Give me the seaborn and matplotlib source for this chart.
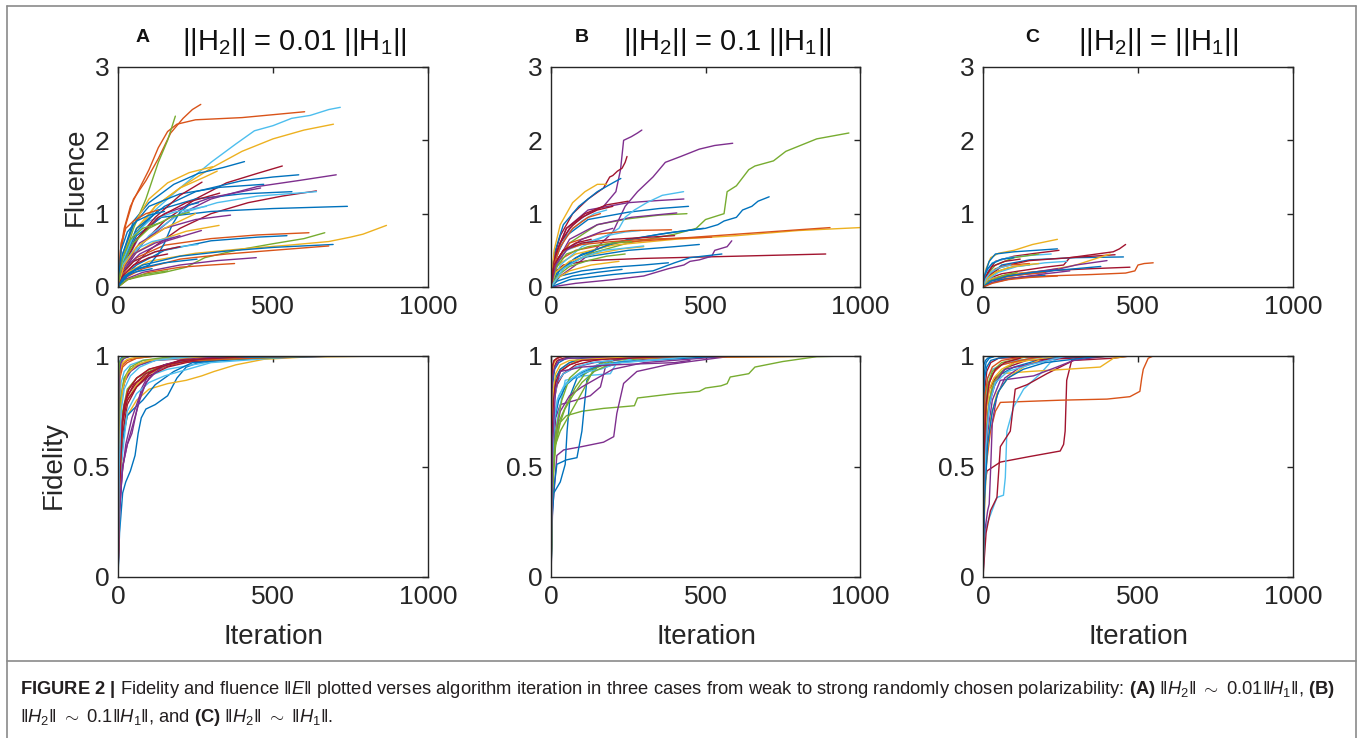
import numpy as np
import pandas as pd
import matplotlib
matplotlib.use("Agg")
import matplotlib.pyplot as plt
from matplotlib.lines import Line2D
import seaborn as sns

# ---------------- colours (MATLAB default order) ----------------
COLORS = {"b": "#0072BD", "o": "#D95319", "y": "#EDB120", "p": "#7E2F8E",
          "g": "#77AC30", "c": "#4DBEEE", "r": "#A2142F"}

# ---------------- data: (colour, iterations, values) ----------------
A_FLU = [
 ("o", [0,8,20,40,70,100,130,160,190,250,400,602], [0,0.5,0.8,1.1,1.35,1.6,1.9,2.12,2.22,2.28,2.31,2.39]),
 ("o", [0,10,25,50,90,130,170,210,240,267], [0,0.5,0.85,1.2,1.45,1.75,2.1,2.3,2.42,2.49]),
 ("g", [0,20,50,90,130,160,185], [0,0.4,0.8,1.2,1.7,2.0,2.33]),
 ("c", [0,20,60,120,200,300,380,440,500,560,620,680,717], [0,0.4,0.75,1.05,1.35,1.7,1.95,2.13,2.2,2.3,2.34,2.42,2.45]),
 ("y", [0,20,60,120,200,300,400,500,600,695], [0,0.4,0.8,1.1,1.35,1.62,1.85,2.02,2.14,2.22]),
 ("b", [0,15,50,100,180,260,340,408], [0,0.45,0.9,1.15,1.4,1.55,1.63,1.71]),
 ("y", [0,15,50,100,160,230,305], [0,0.4,0.85,1.2,1.42,1.56,1.64]),
 ("y", [0,20,60,120,200,280,320], [0,0.35,0.75,1.1,1.35,1.5,1.58]),
 ("r", [0,30,80,150,250,350,450,530], [0,0.3,0.6,0.9,1.2,1.42,1.55,1.65]),
 ("b", [0,20,60,150,250,400,500,583], [0,0.4,0.8,1.1,1.3,1.45,1.5,1.53]),
 ("p", [0,30,80,180,300,450,580,704], [0,0.3,0.6,0.95,1.2,1.37,1.45,1.53]),
 ("r", [0,40,100,200,300,420,530,640], [0,0.25,0.5,0.8,1.0,1.15,1.24,1.31]),
 ("c", [0,30,100,200,320,450,640], [0,0.35,0.7,1.0,1.15,1.24,1.3]),
 ("b", [0,20,60,130,250,400,561], [0,0.4,0.75,1.05,1.2,1.27,1.3]),
 ("b", [0,15,50,100,200,330,470], [0,0.45,0.85,1.1,1.27,1.36,1.4]),
 ("p", [0,20,70,150,300,460], [0,0.3,0.7,1.0,1.22,1.35]),
 ("b", [0,20,60,140,300,500,740], [0,0.35,0.7,0.95,1.03,1.07,1.10]),
 ("o", [0,20,60,150,300,450,616], [0,0.2,0.4,0.57,0.66,0.71,0.74]),
 ("b", [0,20,60,150,300,450,545], [0,0.15,0.3,0.5,0.63,0.68,0.70]),
 ("g", [0,30,80,150,220,280,380,500,600,667], [0,0.1,0.15,0.2,0.27,0.4,0.5,0.59,0.66,0.74]),
 ("y", [0,30,100,250,400,550,680,750,790,866], [0,0.2,0.35,0.46,0.52,0.57,0.62,0.68,0.72,0.84]),
 ("b", [0,20,80,200,350,500,694], [0,0.15,0.3,0.42,0.49,0.54,0.58]),
 ("o", [0,20,80,200,350,500,680], [0,0.12,0.25,0.38,0.45,0.5,0.56]),
 ("p", [0,20,80,200,320,446], [0,0.1,0.2,0.3,0.36,0.4]),
 ("o", [0,30,100,200,300,376], [0,0.1,0.2,0.27,0.3,0.32]),
 ("b", [0,40,100,130,150,175,200,230,260], [0,0.2,0.3,0.45,0.6,0.85,1.02,1.12,1.15]),
 ("c", [0,15,50,100,180,285], [0,0.35,0.7,0.9,1.02,1.1]),
 ("y", [0,15,50,120,220,326], [0,0.25,0.45,0.62,0.76,0.84]),
 ("p", [0,20,70,150,250,363], [0,0.3,0.6,0.8,0.92,0.98]),
 ("p", [0,20,70,150,269], [0,0.25,0.45,0.62,0.77]),
 ("r", [0,20,60,120,200,271], [0,0.3,0.65,0.95,1.25,1.43]),
 ("r", [0,20,60,130,220,328], [0,0.3,0.65,0.95,1.15,1.28]),
 ("g", [0,15,50,100,170,230], [0,0.3,0.6,0.8,0.95,1.02]),
 ("c", [0,15,50,120,200,258], [0,0.2,0.35,0.48,0.55,0.58]),
 ("g", [0,30,80,160], [0,0.1,0.17,0.22]),
 ("r", [0,15,50,120,200], [0,0.2,0.35,0.48,0.55]),
 ("b", [0,20,60,150,255], [0,0.12,0.25,0.33,0.38]),
 ("o", [0,10,25,50,90,130], [0,0.6,0.8,0.9,1.0,1.05]),
 ("c", [0,15,50,110,180], [0,0.3,0.5,0.62,0.68]),
 ("p", [0,15,50,120,200], [0,0.25,0.45,0.6,0.7]),
 ("b", [0,10,30,60,100,150], [0,0.5,0.75,0.9,0.98,1.03]),
 ("y", [0,20,60,150,250], [0,0.3,0.55,0.8,1.0]),
 ("g", [0,15,40,80,140], [0,0.4,0.65,0.8,0.88]),
 ("r", [0,15,50,100,160], [0,0.15,0.3,0.4,0.45]),
 ("b", [0,15,50,110], [0,0.12,0.2,0.25]),
]

B_FLU = [
 ("p", [0,10,30,70,120,170,210,225,235,260,280,294], [0,0.3,0.6,0.85,1.0,1.1,1.3,1.6,2.0,2.05,2.1,2.14]),
 ("r", [0,10,30,70,120,170,190,200,215,230,240,246], [0,0.4,0.7,1.0,1.2,1.35,1.5,1.52,1.58,1.62,1.7,1.78]),
 ("p", [0,30,80,140,200,240,280,330,370,420,480,530,588], [0,0.15,0.3,0.5,0.75,1.1,1.3,1.5,1.7,1.78,1.88,1.93,1.96]),
 ("g", [0,40,120,250,400,470,500,560,570,600,640,660,720,760,860,964], [0,0.25,0.45,0.6,0.72,0.8,0.92,1.0,1.3,1.38,1.6,1.65,1.72,1.85,2.02,2.1]),
 ("b", [0,30,100,250,400,500,540,560,600,620,650,670,706], [0,0.25,0.45,0.65,0.75,0.8,0.85,0.9,0.95,1.05,1.1,1.17,1.23]),
 ("y", [0,20,80,200,400,600,800,1000], [0,0.3,0.45,0.57,0.65,0.7,0.77,0.81]),
 ("o", [0,20,80,200,400,600,800,903], [0,0.35,0.5,0.6,0.66,0.72,0.78,0.81]),
 ("r", [0,10,40,120,300,600,889], [0,0.2,0.3,0.36,0.39,0.42,0.45]),
 ("p", [0,80,200,300,380,430,450,480,520,530,570,585], [0,0.05,0.1,0.15,0.25,0.3,0.35,0.37,0.42,0.5,0.55,0.63]),
 ("b", [0,60,200,330,400,450,553], [0,0.1,0.17,0.22,0.33,0.4,0.45]),
 ("b", [0,30,100,250,400,480], [0,0.25,0.4,0.5,0.55,0.58]),
 ("b", [0,15,50,120,250,350,445], [0,0.4,0.7,0.92,1.02,1.07,1.1]),
 ("p", [0,15,50,120,250,350,430], [0,0.45,0.8,1.05,1.15,1.18,1.2]),
 ("g", [0,20,60,150,250,350,440], [0,0.3,0.6,0.85,0.93,0.98,1.0]),
 ("p", [0,20,60,150,260,407], [0,0.35,0.65,0.85,0.95,1.01]),
 ("c", [0,30,100,180,220,240,270,310,360,429], [0,0.3,0.55,0.7,0.8,0.95,1.05,1.15,1.25,1.3]),
 ("b", [0,10,40,90,150,200,226], [0,0.45,0.85,1.1,1.3,1.42,1.48]),
 ("y", [0,10,30,70,110,150,180], [0,0.5,0.85,1.15,1.3,1.4,1.4]),
 ("c", [0,15,50,110,180,240,289], [0,0.3,0.5,0.6,0.7,0.75,0.77]),
 ("r", [0,15,50,110,180,250], [0,0.45,0.8,1.0,1.12,1.17]),
 ("o", [0,15,60,150,260,390], [0,0.35,0.6,0.72,0.77,0.78]),
 ("b", [0,20,80,200,350,493], [0,0.2,0.4,0.6,0.72,0.8]),
 ("b", [0,30,100,200,300,380], [0,0.15,0.22,0.27,0.3,0.33]),
 ("o", [0,10,40,100,200,300,520], [0,0.3,0.5,0.58,0.62,0.65,0.68]),
 ("r", [0,10,40,100,200,320,400], [0,0.3,0.5,0.6,0.65,0.68,0.7]),
 ("y", [0,15,60,140,230,300], [0,0.2,0.35,0.45,0.52,0.55]),
 ("g", [0,15,50,120,200,260], [0,0.25,0.45,0.55,0.6,0.62]),
 ("c", [0,10,30,60,100,140,180], [0,0.3,0.55,0.75,0.9,1.0,1.05]),
 ("r", [0,10,30,60,100,150,200], [0,0.35,0.6,0.8,0.95,1.05,1.1]),
 ("o", [0,10,30,70,120,160], [0,0.3,0.55,0.8,0.95,1.0]),
 ("g", [0,20,60,120,180,240], [0,0.15,0.28,0.36,0.42,0.45]),
 ("b", [0,20,70,150,230], [0,0.08,0.15,0.2,0.24]),
 ("y", [0,20,60,130,220], [0,0.12,0.22,0.3,0.35]),
 ("p", [0,15,50,100,160,200], [0,0.3,0.5,0.65,0.75,0.8]),
 ("r", [0,10,40,80,130], [0,0.3,0.5,0.6,0.65]),
 ("c", [0,40,100,170,240,300], [0,0.25,0.4,0.5,0.53,0.56]),
]

C_FLU = [
 ("y", [0,10,25,50,100,160,240], [0,0.25,0.4,0.46,0.5,0.58,0.65]),
 ("r", [0,20,60,120,200,260,280,350,420,440,460], [0,0.12,0.18,0.22,0.27,0.3,0.4,0.44,0.48,0.52,0.58]),
 ("o", [0,20,80,200,350,460,490,500,520,549], [0,0.08,0.12,0.15,0.17,0.19,0.22,0.3,0.32,0.33]),
 ("r", [0,20,80,200,350,474], [0,0.1,0.17,0.22,0.25,0.27]),
 ("b", [0,20,60,150,300,453], [0,0.15,0.3,0.37,0.4,0.41]),
 ("r", [0,20,60,150,280,426], [0,0.15,0.28,0.36,0.4,0.44]),
 ("b", [0,8,20,40,100,240], [0,0.2,0.35,0.45,0.48,0.52]),
 ("r", [0,15,40,100,170,245], [0,0.2,0.35,0.42,0.46,0.5]),
 ("y", [0,20,80,200,300,410], [0,0.1,0.17,0.22,0.3,0.45]),
 ("p", [0,20,80,200,300,400], [0,0.08,0.15,0.2,0.3,0.36]),
 ("c", [0,10,30,80,150,220], [0,0.2,0.33,0.4,0.43,0.45]),
 ("p", [0,20,80,160,240], [0,0.08,0.15,0.2,0.25]),
 ("g", [0,10,40,100,180], [0,0.15,0.3,0.4,0.45]),
 ("o", [0,20,60,130,200], [0,0.08,0.13,0.17,0.2]),
 ("b", [0,5,15,30,60,100], [0,0.15,0.25,0.32,0.38,0.4]),
 ("g", [0,15,50,100,150], [0,0.12,0.22,0.28,0.3]),
 ("c", [0,15,50,110,200,270], [0,0.1,0.2,0.28,0.33,0.35]),
 ("o", [0,15,40,90,150], [0,0.15,0.25,0.3,0.32]),
 ("b", [0,20,60,130,200], [0,0.05,0.1,0.14,0.16]),
 ("r", [0,10,30,70,120], [0,0.15,0.28,0.35,0.38]),
 ("y", [0,15,40,80,130,180], [0,0.12,0.2,0.26,0.3,0.32]),
 ("p", [0,30,100,200,280], [0,0.06,0.12,0.18,0.22]),
 ("g", [0,20,60,110], [0,0.08,0.15,0.2]),
 ("c", [0,10,25,50,90], [0,0.12,0.2,0.26,0.3]),
 ("b", [0,25,80,160,300,380], [0,0.08,0.15,0.2,0.25,0.28]),
 ("o", [0,30,80,150,240], [0,0.05,0.1,0.13,0.15]),
]

A_FID = [
 ("b", [0,5,15,25,40,55,65,75,90,120,160,190,220,260,320,694], [0,0.2,0.38,0.43,0.48,0.55,0.65,0.72,0.76,0.78,0.82,0.9,0.95,0.97,0.99,1.0]),
 ("y", [0,5,15,30,60,100,160,220,270,310,380,470,600,866], [0,0.3,0.62,0.73,0.8,0.85,0.875,0.89,0.91,0.93,0.96,0.985,0.995,1.0]),
 ("c", [0,5,15,30,60,100,160,240,330,440,717], [0,0.35,0.65,0.8,0.87,0.91,0.94,0.96,0.98,0.99,1.0]),
 ("p", [0,5,15,30,45,60,75,100,150,220,704], [0,0.3,0.5,0.6,0.65,0.75,0.85,0.92,0.96,0.98,1.0]),
 ("r", [0,5,15,30,60,100,160,250,640], [0,0.4,0.65,0.78,0.86,0.91,0.95,0.98,1.0]),
 ("r", [0,5,15,30,60,100,150,200,530], [0,0.45,0.72,0.82,0.88,0.92,0.95,0.97,1.0]),
 ("b", [0,5,15,30,50,80,120,180,240,561], [0,0.4,0.62,0.73,0.76,0.8,0.87,0.93,0.97,1.0]),
 ("c", [0,10,30,60,100,150,200,250,300,600], [0,0.5,0.75,0.83,0.88,0.91,0.93,0.95,0.97,1.0]),
 ("p", [0,5,15,30,50,70,90,130,200,460], [0,0.3,0.5,0.6,0.7,0.8,0.88,0.94,0.98,1.0]),
 ("y", [0,5,15,30,60,100,160,230,320], [0,0.4,0.7,0.8,0.87,0.92,0.96,0.98,1.0]),
 ("g", [0,5,15,30,60,100,150,230,667], [0,0.5,0.75,0.85,0.9,0.93,0.96,0.98,1.0]),
 ("o", [0,5,15,30,60,100,160,240,616], [0,0.45,0.72,0.84,0.9,0.94,0.96,0.98,1.0]),
 ("b", [0,3,10,25,50,90,150,740], [0,0.6,0.82,0.9,0.95,0.97,0.99,1.0]),
 ("r", [0,5,15,30,60,100,150,330], [0,0.4,0.7,0.8,0.86,0.92,0.96,1.0]),
 ("g", [0,3,10,20,40,80,150,230], [0,0.6,0.82,0.9,0.94,0.97,0.99,1.0]),
 ("c", [0,3,10,20,40,80,150,285], [0,0.7,0.88,0.93,0.96,0.98,0.99,1.0]),
 ("o", [0,2,6,15,30,60,120,267], [0,0.7,0.9,0.95,0.97,0.99,1.0,1.0]),
 ("o", [0,2,6,15,30,60,120,602], [0,0.75,0.92,0.96,0.98,0.99,1.0,1.0]),
 ("y", [0,2,6,15,30,60,120,695], [0,0.8,0.93,0.97,0.985,0.995,1.0,1.0]),
 ("p", [0,3,10,20,40,70,120,363], [0,0.55,0.8,0.88,0.93,0.96,0.98,1.0]),
 ("b", [0,2,5,10,20,40,80,408], [0,0.85,0.95,0.98,0.99,1.0,1.0,1.0]),
 ("r", [0,3,10,20,35,60,100,200,271], [0,0.35,0.65,0.78,0.85,0.9,0.94,0.98,1.0]),
 ("g", [0,3,8,20,40,80,185], [0,0.55,0.8,0.9,0.95,0.98,1.0]),
 ("p", [0,5,12,25,45,70,100,150,269], [0,0.3,0.45,0.6,0.72,0.82,0.9,0.96,1.0]),
 ("y", [0,3,8,15,30,60,100,305], [0,0.5,0.75,0.85,0.92,0.96,0.98,1.0]),
 ("b", [0,2,5,10,20,50,100,583], [0,0.9,0.97,0.99,1.0,1.0,1.0,1.0]),
 ("r", [0,4,12,25,50,90,140,200,446], [0,0.45,0.7,0.8,0.87,0.92,0.95,0.98,1.0]),
 ("c", [0,4,10,20,40,70,120,258], [0,0.5,0.75,0.85,0.91,0.95,0.98,1.0]),
 ("p", [0,2,5,10,20,40,80,446], [0,0.8,0.93,0.97,0.99,1.0,1.0,1.0]),
 ("g", [0,2,4,8,15,30,160], [0,0.9,0.96,0.98,0.99,1.0,1.0]),
]

B_FID = [
 ("g", [0,3,8,15,30,50,100,170,230,270,280,400,480,500,550,570,580,640,660,750,860,964],
       [0,0.35,0.5,0.6,0.7,0.73,0.75,0.763,0.77,0.775,0.81,0.83,0.84,0.855,0.865,0.875,0.905,0.92,0.95,0.975,0.997,1.0]),
 ("p", [0,5,19,41,100,170,203,213,235,278,375,450,588], [0,0.3,0.55,0.575,0.59,0.61,0.635,0.74,0.876,0.93,0.96,0.975,1.0]),
 ("b", [0,3,9,30,46,52,62,84,160,213,300,706], [0,0.25,0.38,0.43,0.51,0.66,0.82,0.9,0.96,0.97,0.99,1.0]),
 ("b", [0,5,19,50,84,100,116,160,250,445], [0,0.35,0.51,0.53,0.54,0.66,0.89,0.97,0.99,1.0]),
 ("p", [0,5,15,30,80,127,160,176,250,430], [0,0.5,0.72,0.78,0.8,0.82,0.86,0.95,0.98,1.0]),
 ("c", [0,5,19,46,106,192,213,300,429], [0,0.45,0.7,0.89,0.91,0.92,0.97,0.99,1.0]),
 ("g", [0,5,15,30,62,106,138,200,440], [0,0.4,0.6,0.66,0.74,0.85,0.94,0.98,1.0]),
 ("g", [0,4,12,25,50,80,110,150,240], [0,0.4,0.6,0.7,0.78,0.86,0.92,0.96,1.0]),
 ("c", [0,4,10,25,50,80,120,160,200,289], [0,0.5,0.72,0.82,0.88,0.91,0.93,0.94,0.96,1.0]),
 ("y", [0,3,8,15,30,60,100,160,1000], [0,0.6,0.82,0.9,0.94,0.97,0.98,0.99,1.0]),
 ("o", [0,3,8,15,30,60,100,160,903], [0,0.55,0.8,0.88,0.93,0.96,0.98,0.99,1.0]),
 ("r", [0,2,5,10,20,40,80,889], [0,0.75,0.9,0.95,0.98,0.99,1.0,1.0]),
 ("p", [0,5,15,30,60,100,150,200,300,585], [0,0.45,0.65,0.75,0.82,0.86,0.9,0.94,0.97,1.0]),
 ("b", [0,4,10,25,50,90,140,200,553], [0,0.5,0.7,0.8,0.87,0.92,0.95,0.97,1.0]),
 ("p", [0,3,10,20,40,80,140,200,294], [0,0.6,0.82,0.88,0.92,0.95,0.97,0.98,1.0]),
 ("r", [0,3,10,20,40,80,140,246], [0,0.55,0.8,0.87,0.92,0.96,0.98,1.0]),
 ("b", [0,3,8,15,30,60,100,226], [0,0.6,0.82,0.9,0.94,0.97,0.99,1.0]),
 ("g", [0,5,12,25,45,70,100,140,200], [0,0.4,0.58,0.68,0.76,0.82,0.88,0.93,0.97]),
 ("y", [0,2,5,10,20,40,180], [0,0.8,0.93,0.97,0.99,1.0,1.0]),
 ("o", [0,2,5,10,20,40,390], [0,0.85,0.95,0.98,0.99,1.0,1.0]),
 ("r", [0,2,5,10,20,40,250], [0,0.9,0.96,0.98,0.99,1.0,1.0]),
 ("c", [0,3,8,20,40,80,130,200], [0,0.55,0.78,0.88,0.92,0.95,0.97,0.98]),
 ("b", [0,2,6,12,25,50,493], [0,0.7,0.88,0.94,0.97,0.99,1.0]),
 ("p", [0,2,5,12,25,60,407], [0,0.75,0.9,0.95,0.98,0.99,1.0]),
 ("g", [0,3,8,18,35,60,100], [0,0.35,0.55,0.68,0.8,0.9,0.95]),
 ("y", [0,3,8,15,30,60,300], [0,0.65,0.85,0.92,0.96,0.98,1.0]),
 ("r", [0,3,8,15,30,60,100,400], [0,0.6,0.8,0.88,0.93,0.96,0.98,1.0]),
 ("c", [0,4,10,20,40,70,100,150,480], [0,0.5,0.7,0.8,0.86,0.9,0.93,0.96,1.0]),
 ("p", [0,5,15,30,100,200,300,400,450], [0,0.6,0.85,0.93,0.95,0.96,0.965,0.97,0.98]),
]

C_FID = [
 ("r", [0,2,13,56,150,249,260,265,270,286,324,460], [0,0.39,0.48,0.52,0.545,0.57,0.6,0.66,0.89,0.98,1.0,1.0]),
 ("o", [0,1,10,24,40,56,150,249,400,474,506,512,517,533,549], [0,0.3,0.5,0.66,0.75,0.79,0.795,0.8,0.805,0.816,0.84,0.9,0.94,0.99,1.0]),
 ("c", [0,5,13,45,66,72,77,99,131,185,217,260], [0,0.18,0.24,0.36,0.37,0.45,0.66,0.77,0.85,0.92,0.97,1.0]),
 ("r", [0,10,24,45,56,88,104,142,206,292,421,474], [0,0.2,0.3,0.36,0.59,0.66,0.85,0.87,0.92,0.98,0.99,1.0]),
 ("y", [0,5,15,30,56,150,270,378,421,470], [0,0.5,0.75,0.88,0.92,0.93,0.94,0.95,0.99,1.0]),
 ("p", [0,5,15,30,56,163,238,292,400], [0,0.4,0.65,0.8,0.89,0.91,0.95,0.98,1.0]),
 ("p", [0,5,15,20,25,30,45,70,120,240], [0,0.2,0.3,0.33,0.5,0.7,0.82,0.9,0.95,1.0]),
 ("b", [0,5,15,30,60,100,150,200,453], [0,0.5,0.72,0.85,0.92,0.95,0.97,0.99,1.0]),
 ("r", [0,3,8,20,40,80,140,426], [0,0.55,0.75,0.85,0.9,0.95,0.98,1.0]),
 ("g", [0,3,10,20,35,60,100,180], [0,0.4,0.65,0.8,0.88,0.93,0.97,1.0]),
 ("y", [0,3,10,20,35,60,100,240], [0,0.5,0.75,0.85,0.9,0.94,0.97,1.0]),
 ("b", [0,2,5,10,20,40,240], [0,0.8,0.93,0.97,0.99,1.0,1.0]),
 ("c", [0,3,8,15,30,60,110,220], [0,0.6,0.82,0.9,0.94,0.96,0.98,1.0]),
 ("o", [0,3,8,15,30,60,120,200], [0,0.45,0.72,0.85,0.92,0.96,0.98,1.0]),
 ("r", [0,2,6,12,25,50,245], [0,0.65,0.85,0.93,0.97,0.99,1.0]),
 ("b", [0,2,5,12,25,50,100], [0,0.75,0.9,0.95,0.98,0.99,1.0]),
 ("g", [0,3,8,15,30,60,150], [0,0.5,0.75,0.87,0.93,0.97,1.0]),
 ("o", [0,2,6,15,30,60,150], [0,0.6,0.82,0.9,0.95,0.98,1.0]),
 ("y", [0,5,12,25,45,80,130,180], [0,0.3,0.55,0.72,0.83,0.9,0.95,0.98]),
 ("p", [0,4,10,20,40,70,280], [0,0.4,0.62,0.78,0.88,0.94,1.0]),
 ("c", [0,4,10,20,40,80,150,270], [0,0.35,0.6,0.78,0.88,0.93,0.96,1.0]),
 ("b", [0,5,15,30,50,80,130,200,380], [0,0.35,0.6,0.75,0.84,0.9,0.94,0.97,1.0]),
 ("r", [0,3,10,20,40,70,120], [0,0.55,0.78,0.88,0.94,0.97,0.99]),
 ("b", [0,1,3,8,15,40,100], [0,0.9,0.96,0.98,0.99,1.0,1.0]),
]

PANEL_LETTERS = ["A", "B", "C"]
PANEL_TITLES = ["||H$_2$|| = 0.01 ||H$_1$||", "||H$_2$|| = 0.1 ||H$_1$||", "||H$_2$|| = ||H$_1$||"]
X_TICKS = [0, 500, 1000]
FLU_TICKS = [0, 1, 2, 3]
FID_TICKS = [0, 0.5, 1]
FID_TICKLABELS = ["0", "0.5", "1"]

# ---------------- style ----------------
sns.set_theme(style="white")
plt.rcParams["font.family"] = ["Liberation Sans", "DejaVu Sans"]
plt.rcParams["mathtext.fontset"] = "custom"
plt.rcParams["mathtext.rm"] = "Liberation Sans"
plt.rcParams["mathtext.it"] = "Liberation Sans:italic"
plt.rcParams["mathtext.bf"] = "Liberation Sans:bold"

W, H = 1358, 738
fig = plt.figure(figsize=(W / 100, H / 100), dpi=100)
fig.patch.set_facecolor("white")

def fx(px):
    return px / W

def fy(py):
    return 1 - py / H

def make_axes(l, t, r, b):
    return fig.add_axes([fx(l), fy(b), fx(r - l), (b - t) / H])

def runs_df(runs):
    rows = []
    for i, (c, xs, ys) in enumerate(runs):
        for x, y in zip(xs, ys):
            rows.append({"run": f"r{i}", "it": x, "val": y})
    df = pd.DataFrame(rows)
    pal = {f"r{i}": COLORS[c] for i, (c, _, _) in enumerate(runs)}
    return df, pal

def draw(ax, runs, ylim, yticks, yticklabels):
    df, pal = runs_df(runs)
    sns.lineplot(data=df, x="it", y="val", hue="run", palette=pal, estimator=None,
                 sort=False, legend=False, linewidth=1.0, ax=ax)
    ax.set_xlim(0, 1000)
    ax.set_ylim(*ylim)
    ax.set_xticks(X_TICKS)
    ax.set_xticklabels([str(t) for t in X_TICKS])
    ax.set_yticks(yticks)
    ax.set_yticklabels(yticklabels)
    ax.set_xlabel("")
    ax.set_ylabel("")
    ax.tick_params(direction="in", top=True, right=True, length=4, width=1,
                   labelsize=19, colors="#262626", pad=6)
    for s in ax.spines.values():
        s.set_color("#262626")
        s.set_linewidth(1.0)

top_boxes = [(118, 67, 428, 287), (551, 67, 860, 287), (983, 67, 1293, 287)]
bot_boxes = [(118, 356, 428, 577), (551, 356, 860, 577), (983, 356, 1293, 577)]
flu_sets = [A_FLU, B_FLU, C_FLU]
fid_sets = [A_FID, B_FID, C_FID]

for k in range(3):
    ax = make_axes(*top_boxes[k])
    draw(ax, flu_sets[k], (0, 3), FLU_TICKS, [str(t) for t in FLU_TICKS])
    ax2 = make_axes(*bot_boxes[k])
    draw(ax2, fid_sets[k], (0, 1), FID_TICKS, FID_TICKLABELS)

# axis labels
fig.text(fx(76), fy(177), "Fluence", rotation=90, ha="center", va="center", fontsize=20, color="#262626")
fig.text(fx(54), fy(465), "Fidelity", rotation=90, ha="center", va="center", fontsize=20, color="#262626")
for cx in (273, 706, 1138):
    fig.text(fx(cx), fy(637), "Iteration", ha="center", va="center", fontsize=20, color="#262626")

# panel titles
letter_x = [143, 582, 1032]
title_x = [294, 727, 1158]
for k in range(3):
    fig.text(fx(letter_x[k]), fy(38), PANEL_LETTERS[k], ha="center", va="center",
             fontsize=14, fontweight="bold", color="#111111")
    fig.text(fx(title_x[k]), fy(50), PANEL_TITLES[k], ha="center", va="baseline",
             fontsize=21, color="#111111")

# frames
frame_c = "#8a8a8a"
for (x0, y0, x1, y1) in [(7, 6, 1356, 6), (7, 661, 1356, 661), (7, 6, 7, 738), (1356, 6, 1356, 738)]:
    fig.add_artist(Line2D([fx(x0), fx(x1)], [fy(y0), fy(y1)], transform=fig.transFigure,
                          color=frame_c, linewidth=1.2))

# caption
cap1 = (r"$\mathbf{FIGURE\ 2\ |}$ Fidelity and fluence $\Vert E\Vert$ plotted verses algorithm iteration in three "
        r"cases from weak to strong randomly chosen polarizability: $\mathbf{(A)}$ $\Vert H_2\Vert\ \sim\ 0.01\Vert H_1\Vert$, $\mathbf{(B)}$")
cap2 = r"$\Vert H_2\Vert\ \sim\ 0.1\Vert H_1\Vert$, and $\mathbf{(C)}$ $\Vert H_2\Vert\ \sim\ \Vert H_1\Vert$."
fig.text(fx(20), fy(690), cap1, ha="left", va="center", fontsize=13.2, color="#231f20")
fig.text(fx(20), fy(717), cap2, ha="left", va="center", fontsize=13.2, color="#231f20")

fig.savefig("out.png", dpi=100, facecolor="white")
